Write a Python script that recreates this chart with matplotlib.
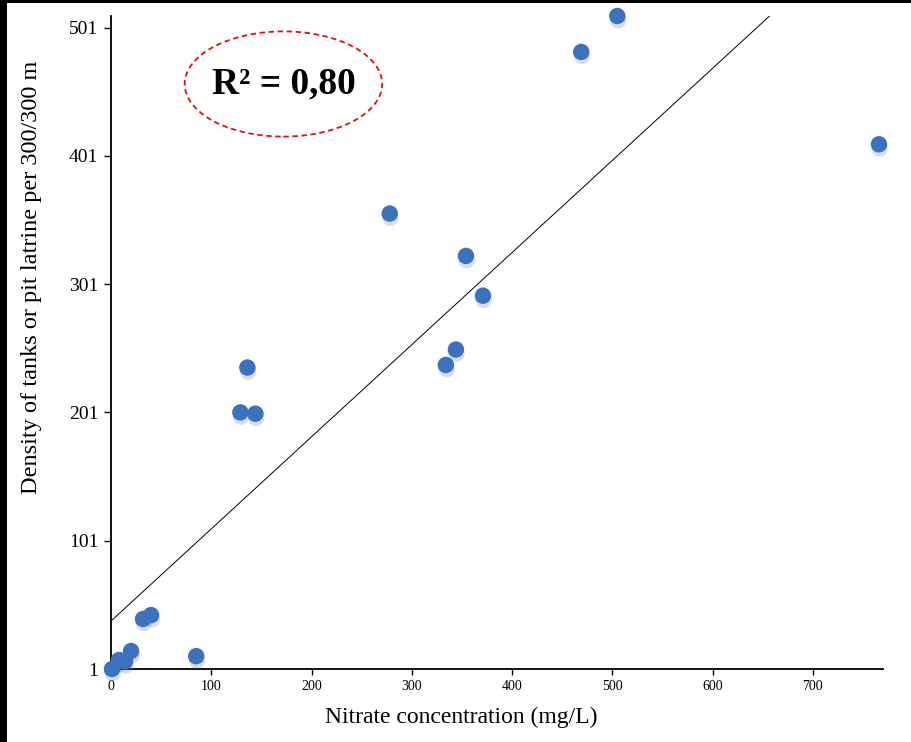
import numpy as np
import matplotlib
matplotlib.use("Agg")
import matplotlib.pyplot as plt
from matplotlib.patches import Ellipse, Rectangle
import matplotlib.patheffects as pe

# Data
nitrate = [1, 8, 14, 20, 32, 40, 85, 129, 144, 136, 278, 334, 344, 354, 371, 469, 505, 766]
density = [1, 8, 7, 15, 40, 43, 11, 201, 200, 236, 356, 238, 250, 323, 292, 482, 510, 410]
fit_intercept = 38.4
fit_slope = 0.718
r2_text = "R² = 0,80"
xticks = [0, 100, 200, 300, 400, 500, 600, 700]
yticks = [1, 101, 201, 301, 401, 501]

W, H = 912, 742
fig = plt.figure(figsize=(W / 100, H / 100), dpi=100, facecolor="black")
# white canvas with thin black strips at top and left
fig.patches.append(Rectangle((7 / W, 0), 1, (H - 3) / H, transform=fig.transFigure,
                             facecolor="white", edgecolor="none", zorder=-10))

ax = fig.add_axes([111 / W, 73 / H, (883 - 111) / W, (669 - 16) / H])
ax.set_facecolor("white")
ax.set_xlim(0, 770)
ax.set_ylim(1, 510)

serif = ["Liberation Serif", "DejaVu Serif"]

# regression line
xmax_line = (510 - fit_intercept) / fit_slope
xl = np.array([0, xmax_line])
ax.plot(xl, fit_intercept + fit_slope * xl, color="black", lw=0.7, zorder=2)

# markers with soft shadow
ax.scatter(nitrate, density, s=140, color="#3A72C0", edgecolors="none", zorder=3,
           clip_on=False,
           path_effects=[pe.SimplePatchShadow(offset=(0.5, -3), shadow_rgbFace="#777777", alpha=0.25),
                         pe.Normal()])

for s in ["top", "right"]:
    ax.spines[s].set_visible(False)
for s in ["left", "bottom"]:
    ax.spines[s].set_linewidth(1.3)

ax.set_xticks(xticks)
ax.set_yticks(yticks)
ax.tick_params(axis="x", labelsize=10, length=4, width=1, pad=4)
ax.tick_params(axis="y", labelsize=14, length=5, width=1, pad=4)
for lab in ax.get_xticklabels() + ax.get_yticklabels():
    lab.set_fontfamily(serif)

fig.text(461 / W, (H - 717) / H, "Nitrate concentration (mg/L)", fontsize=17, family=serif,
         ha="center", va="center")
fig.text(32 / W, (H - 277) / H, "Density of tanks or pit latrine per 300/300 m", fontsize=17.5,
         family=serif, rotation=90, ha="center", va="center")

# R² annotation in dashed ellipse
ax.add_patch(Ellipse((172, 457), 197, 82, fill=False, edgecolor="#E01010", lw=1.3,
                     linestyle=(0, (3, 2)), zorder=4))
ax.text(172, 457, r2_text, fontsize=27, fontweight="bold", family=serif,
        ha="center", va="center", zorder=5)

fig.savefig("out.png", dpi=100, facecolor=fig.get_facecolor())
